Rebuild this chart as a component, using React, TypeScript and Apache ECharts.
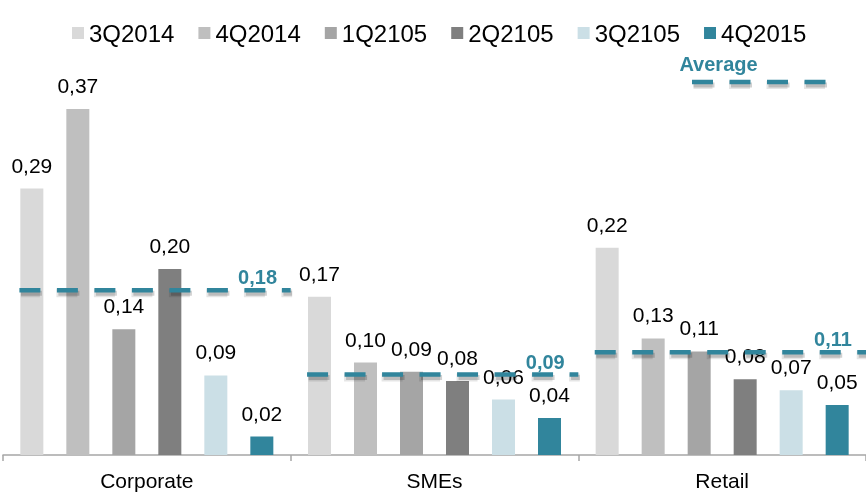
import React, { useEffect, useRef } from "react";
import * as echarts from "echarts";

const categories = ["Corporate", "SMEs", "Retail"];
const seriesNames = ["3Q2014", "4Q2014", "1Q2105", "2Q2105", "3Q2105", "4Q2015"];
const q3_2014 = [0.288, 0.171, 0.224];
const q4_2014 = [0.374, 0.1, 0.126];
const q1_2105 = [0.136, 0.09, 0.112];
const q2_2105 = [0.201, 0.08, 0.082];
const q3_2105 = [0.086, 0.06, 0.07];
const q4_2015 = [0.02, 0.04, 0.054];
const averages = [0.178, 0.087, 0.111];
const averageLegendLabel = "Average";

const barColors = ["#D9D9D9", "#BFBFBF", "#A5A5A5", "#7F7F7F", "#CBDFE6", "#31859C"];
const teal = "#31859C";
const FONT = "'Liberation Sans', Arial, sans-serif";
const DASH = [21, 16.5];

const fmt = (v: number) => v.toFixed(2).replace(".", ",");

// dashed line with a faked soft drop shadow (no SVG filter)
function dashedWithShadow(x1: number, x2: number, y: number) {
  const sx = 1.5;
  const sy = 3;
  return [
    {
      type: "line",
      shape: { x1: x1 + sx, y1: y + sy, x2: x2 + sx, y2: y + sy },
      style: { stroke: "rgba(0,0,0,0.10)", lineWidth: 8, lineDash: DASH, lineDashOffset: 1.5 },
      silent: true,
    },
    {
      type: "line",
      shape: { x1: x1 + sx, y1: y + sy, x2: x2 + sx, y2: y + sy },
      style: { stroke: "rgba(0,0,0,0.18)", lineWidth: 5, lineDash: DASH },
      silent: true,
    },
    {
      type: "line",
      shape: { x1, y1: y, x2, y2: y },
      style: { stroke: teal, lineWidth: 4.5, lineDash: DASH },
      silent: true,
    },
  ];
}

export default function App() {
  const ref = useRef<HTMLDivElement>(null);
  useEffect(() => {
    if (!ref.current) return;
    const chart = echarts.init(ref.current, undefined, { renderer: "svg" });
    const values = [q3_2014, q4_2014, q1_2105, q2_2105, q3_2105, q4_2015];

    const lineStart = 0.057;
    const lineEnd = 1.0;
    const labelPos = 0.885;

    const barSeries = seriesNames.map((name, i) => ({
      name,
      type: "bar",
      xAxisIndex: 0,
      yAxisIndex: 0,
      data: values[i],
      barWidth: 23,
      barGap: "100%",
      itemStyle: { color: barColors[i] },
      label: {
        show: true,
        position: "top",
        distance: 13,
        formatter: (p: any) => fmt(p.value),
        fontSize: 21,
        fontFamily: FONT,
        color: "#000",
      },
      z: 2,
    }));

    const avgSeries = {
      type: "custom",
      xAxisIndex: 1,
      yAxisIndex: 0,
      clip: false,
      silent: true,
      z: 5,
      data: averages.map((a, i) => [i, a]),
      renderItem: (params: any, api: any) => {
        const i = api.value(0);
        const a = api.value(1);
        const p1 = api.coord([i + lineStart, a]);
        const p2 = api.coord([i + lineEnd, a]);
        const pl = api.coord([i + labelPos, a]);
        return {
          type: "group",
          children: [
            ...dashedWithShadow(p1[0], p2[0], p1[1]),
            {
              type: "text",
              x: pl[0],
              y: pl[1] - 13,
              style: {
                text: fmt(a),
                fill: teal,
                font: `bold 20px ${FONT}`,
                textAlign: "center",
                textVerticalAlign: "middle",
              },
            },
          ],
        };
      },
    };

    chart.setOption({
      animation: false,
      textStyle: { fontFamily: FONT },
      legend: {
        data: seriesNames,
        left: 72,
        top: 21,
        padding: 0,
        itemWidth: 12,
        itemHeight: 12,
        itemGap: 24,
        icon: "rect",
        textStyle: { fontSize: 24, color: "#000", fontFamily: FONT, lineHeight: 24 },
      },
      grid: { left: 3, top: 85, width: 865.5, height: 370, containLabel: false },
      xAxis: [
        {
          type: "category",
          data: categories,
          boundaryGap: true,
          axisLine: { lineStyle: { color: "#A6A6A6", width: 1.5 } },
          axisTick: { show: true, length: 6, lineStyle: { color: "#A6A6A6", width: 1.5 } },
          axisLabel: { fontSize: 21, color: "#000", margin: 15, fontFamily: FONT },
        },
        { type: "value", min: 0, max: 3, show: false },
      ],
      yAxis: {
        type: "value",
        min: 0,
        max: 0.4,
        show: false,
        splitLine: { show: false },
      },
      graphic: [
        {
          type: "text",
          x: 718.5,
          y: 64,
          style: {
            text: averageLegendLabel,
            fill: teal,
            font: `bold 20px ${FONT}`,
            textAlign: "center",
            textVerticalAlign: "middle",
          },
        },
        {
          type: "group",
          children: dashedWithShadow(692, 826, 82),
        },
      ],
      series: [...barSeries, avgSeries],
    });
    return () => chart.dispose();
  }, []);
  return (
    <div
      ref={ref}
      style={{ position: "fixed", left: 0, top: 0, width: 866, height: 497 }}
    />
  );
}
